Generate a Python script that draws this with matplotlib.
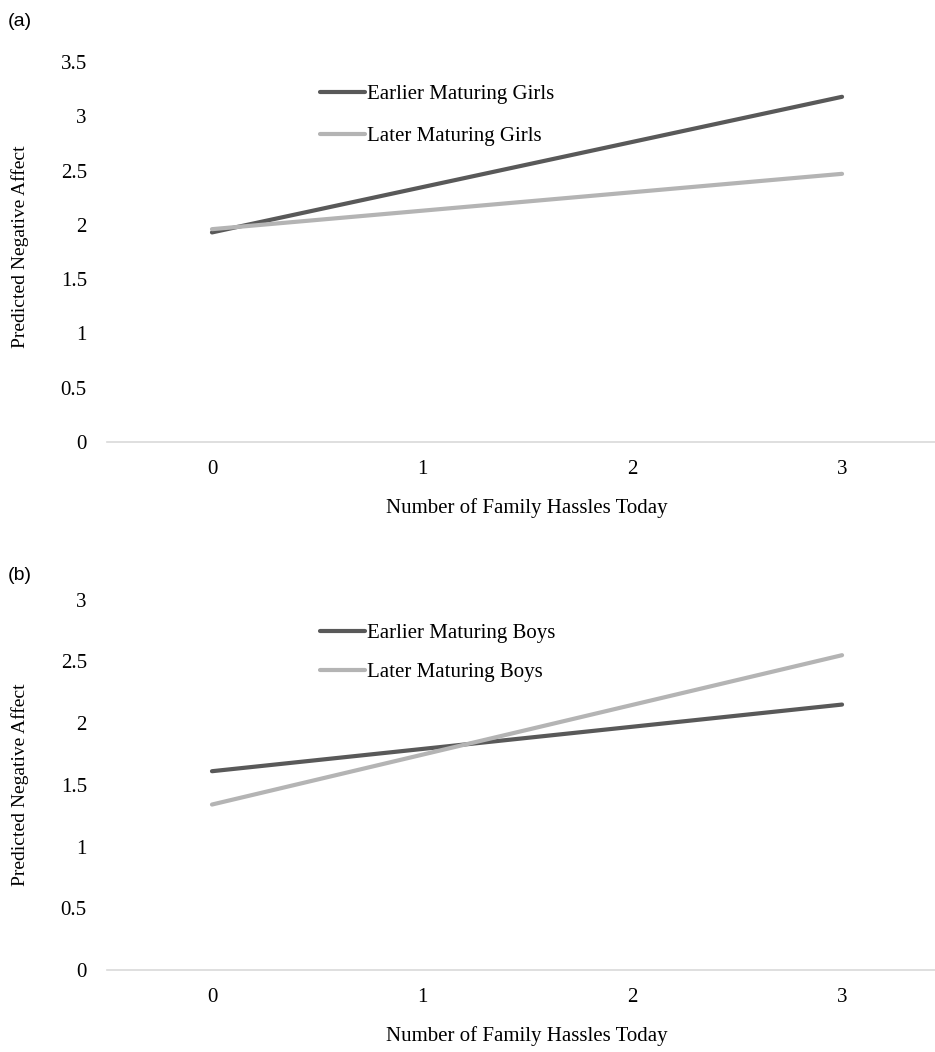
import matplotlib.pyplot as plt

# =============================================================================
# Data
# =============================================================================
hassles = [0, 1, 2, 3]
x_ends = [0, 3]

girls_early = [1.93, 3.18]
girls_late = [1.96, 2.47]
boys_early = [1.61, 2.15]
boys_late = [1.34, 2.55]

girls_labels = ["Earlier Maturing Girls", "Later Maturing Girls"]
boys_labels = ["Earlier Maturing Boys", "Later Maturing Boys"]

dark = "#595959"
light = "#b4b4b4"

plt.rcParams['font.family'] = ['Liberation Serif', 'DejaVu Serif']
plt.rcParams['font.size'] = 15


def draw_panel(ax, early, late, labels, ymax, yticks, legend_y, spacing,
               ylab_y):
    ax.plot(x_ends, early, lw=3, color=dark, solid_capstyle='round',
            label=labels[0])
    ax.plot(x_ends, late, lw=3, color=light, solid_capstyle='round',
            label=labels[1])
    ax.set_xlim(-0.5, 3.5)
    ax.set_ylim(0, ymax)
    ax.set_xticks(hassles)
    ax.set_yticks(yticks)
    ax.set_yticklabels([f"{t:g}" for t in yticks])
    for s in ['top', 'right', 'left']:
        ax.spines[s].set_visible(False)
    ax.spines['bottom'].set_color('#d9d9d9')
    ax.spines['bottom'].set_linewidth(1.2)
    ax.tick_params(length=0)
    ax.tick_params(axis='x', pad=13)
    ax.tick_params(axis='y', pad=14.5)
    ax.set_ylabel("Predicted Negative Affect", fontsize=14)
    ax.yaxis.set_label_coords(-0.093, ylab_y)
    ax.set_xlabel("Number of Family Hassles Today", labelpad=14)
    ax.legend(loc='upper left', bbox_to_anchor=(0.2417, legend_y),
              frameon=False, handlelength=2.15, handletextpad=0.1,
              labelspacing=spacing, borderpad=0)


fig = plt.figure(figsize=(9.35, 10.52), dpi=100)
ax1 = fig.add_axes([0.1144, 0.580, 0.8985, 0.361])
ax2 = fig.add_axes([0.1144, 0.078, 0.8985, 0.352])

draw_panel(ax1, girls_early, girls_late, girls_labels, 3.5,
           [0, 0.5, 1, 1.5, 2, 2.5, 3, 3.5], 0.969, 1.1, 0.515)
draw_panel(ax2, boys_early, boys_late, boys_labels, 3,
           [0, 0.5, 1, 1.5, 2, 2.5, 3], 0.964, 0.95, 0.5)

fig.text(0.008, 0.988, "(a)", family='Liberation Sans', fontsize=14,
         va='top')
fig.text(0.008, 0.461, "(b)", family='Liberation Sans', fontsize=14,
         va='top')

fig.savefig("out.png", dpi=100)
